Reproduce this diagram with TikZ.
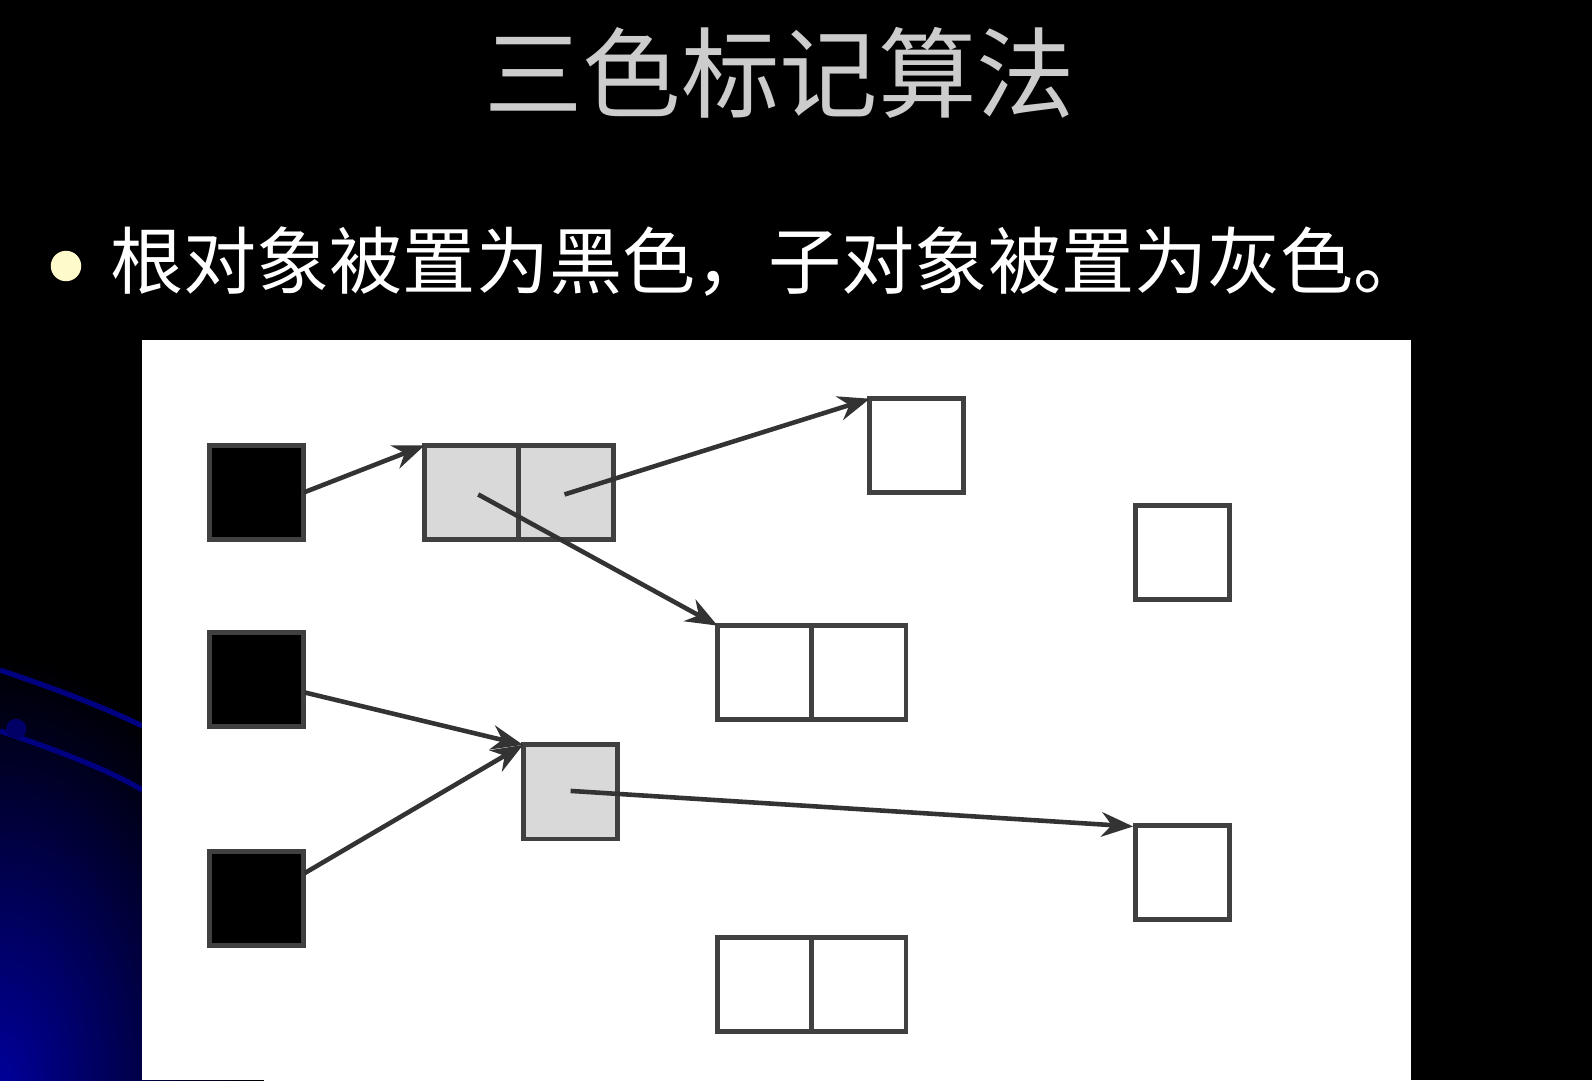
\documentclass[tikz,border=0pt]{standalone}
\usepackage{fontspec}
\newfontfamily\cjk{Noto Sans CJK SC}
\usetikzlibrary{arrows.meta}
\definecolor{slidegrey}{rgb}{0.85, 0.85, 0.85}
\definecolor{bulletyellow}{rgb}{1, 0.98, 0.8}
\tikzset{obj/.style={draw=black!75, line width=1.4pt, minimum width=0.94cm, minimum height=0.94cm, inner sep=0pt, outer sep=0pt}}
\tikzset{blackobj/.style={obj, fill=black}}
\tikzset{greyobj/.style={obj, fill=slidegrey}}
\tikzset{whiteobj/.style={obj, fill=white}}
\tikzset{ref/.style={line width=1.3pt, color=black!80, -{Stealth[length=9pt, width=7pt]}}}

\begin{document}
\begin{tikzpicture}[x=0.01015cm, y=-0.01015cm]
        \fill[black] (0,0) rectangle (1568,1064);
        \useasboundingbox (0,0) rectangle (1568,1064);
        \shade[inner color=blue!60!black, outer color=black] (0,1064) ellipse (260 and 420);
        \draw[blue!50!black, line width=1.5pt] (0,660) .. controls (60,680) and (110,700) .. (140,715);
        \draw[blue!50!black, line width=1.5pt] (0,720) .. controls (60,740) and (110,760) .. (140,778);
        \fill[blue!40!black] (16,718) circle (10);

        \node[font=\cjk\fontsize{28pt}{30pt}\selectfont, text=black!20, draw=none] (title) at (768,72) {三色标记算法};
        \fill[bulletyellow] (65,262) circle (15);
        \node[font=\cjk\fontsize{20.8pt}{24pt}\selectfont, text=white, anchor=west, inner sep=0pt] (bullet) at (108,258) {根对象被置为黑色，子对象被置为灰色。};

        \fill[white] (140,335) rectangle (1390,1064);

        \node[blackobj] (R1) at (253,485) {};
        \node[blackobj] (R2) at (253,669) {};
        \node[blackobj] (R3) at (253,885) {};

        \node[greyobj] (G1a) at (464.5,485) {};
        \node[greyobj] (G1b) at (557.5,485) {};
        \node[greyobj] (G2) at (561.5,780) {};

        \node[whiteobj] (W1) at (903,439) {};
        \node[whiteobj] (W2) at (1165,544) {};
        \node[whiteobj] (W3a) at (753,662.5) {};
        \node[whiteobj] (W3b) at (846,662.5) {};
        \node[whiteobj] (W4) at (1165,859) {};
        \node[whiteobj] (W5a) at (753,970) {};
        \node[whiteobj] (W5b) at (846,970) {};

        \coordinate (c1) at (471,487);
        \coordinate (c2) at (556,487);
        \coordinate (c3) at (562,779);
        \coordinate (r2out) at (300,682);
        \coordinate (r3out) at (300,860);
        \coordinate (w4in) at (1116,814);

        \draw [ref] (R1.east) -- (G1a.north west);
        \draw [ref] (c2) -- (W1.north west);
        \draw [ref] (c1) -- (W3a.north west);
        \draw [ref] (r2out) -- (G2.north west);
        \draw [ref] (r3out) -- (G2.north west);
        \draw [ref] (c3) -- (w4in);
\end{tikzpicture}
\end{document}
